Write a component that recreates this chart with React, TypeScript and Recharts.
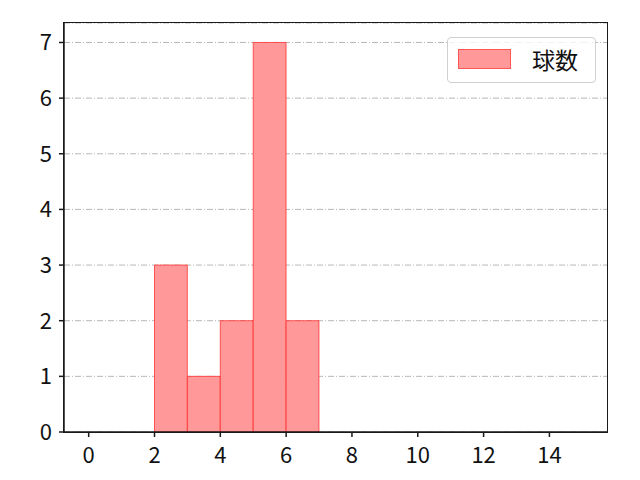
import React from 'react'
import {
  ComposedChart,
  Bar,
  XAxis,
  YAxis,
  CartesianGrid,
} from 'recharts'

// histogram bins (left edge) and counts
const binStarts = [0, 1, 2, 3, 4, 5, 6, 7, 8, 9, 10, 11, 12, 13, 14]
const counts = [0, 0, 3, 1, 2, 7, 2, 0, 0, 0, 0, 0, 0, 0, 0]
const xTicks = [0, 2, 4, 6, 8, 10, 12, 14]
const yTicks = [0, 1, 2, 3, 4, 5, 6, 7]
const xDomain: [number, number] = [-0.75, 15.75]
const yDomain: [number, number] = [0, 7.35]
const seriesName = '球数'

const data = binStarts.map((s, i) => ({ x: s + 0.5, count: counts[i] }))

const W = 640
const H = 480
const M = { top: 23, right: 33, bottom: 0, left: 0 }
const Y_AXIS_W = 64
const X_AXIS_H = 48
const plotW = W - M.left - M.right - Y_AXIS_W
const plotH = H - M.top - M.bottom - X_AXIS_H
// recharts shrinks bars to 90% when barSize >= band width, so stay just under it
const barSize = plotW / (xDomain[1] - xDomain[0]) - 0.1

const FONT = '"Noto Sans CJK JP", "Noto Sans", sans-serif'
const tickStyle = { fill: '#111', fontSize: 22, fontFamily: FONT }
const axisColor = '#1a1a1a'

export default function App() {
  return (
    <div style={{ position: 'fixed', top: 0, left: 0, width: W, height: H, background: '#fff', fontFamily: FONT }}>
      <ComposedChart
        width={W}
        height={H}
        data={data}
        margin={M}
        barCategoryGap="0%"
        barGap="0%"
      >
        <CartesianGrid
          vertical={false}
          stroke="#b0b0b0"
          strokeDasharray="6 2 1 2"
          strokeWidth={0.9}
        />
        <XAxis
          dataKey="x"
          type="number"
          domain={xDomain}
          ticks={xTicks}
          allowDataOverflow
          height={X_AXIS_H}
          tick={tickStyle}
          tickSize={5}
          tickMargin={10}
          stroke={axisColor}
          strokeWidth={1.5}
        />
        <YAxis
          type="number"
          domain={yDomain}
          ticks={yTicks}
          allowDataOverflow
          width={Y_AXIS_W}
          tick={tickStyle}
          tickSize={5}
          tickMargin={7}
          stroke={axisColor}
          strokeWidth={1.5}
        />
        <Bar
          dataKey="count"
          name={seriesName}
          fill="#ff9999"
          stroke="rgba(255,40,40,0.75)"
          strokeWidth={1}
          barSize={barSize}
          isAnimationActive={false}
        />
      </ComposedChart>
      {/* axes frame */}
      <div
        style={{
          position: 'absolute',
          left: M.left + Y_AXIS_W - 0.75,
          top: M.top - 0.75,
          width: plotW + 1.5,
          height: plotH + 1.5,
          border: `1.5px solid ${axisColor}`,
          boxSizing: 'border-box',
          pointerEvents: 'none',
        }}
      />
      <div
        style={{
          position: 'absolute',
          left: 447,
          top: 37,
          width: 149,
          height: 46,
          border: '1px solid #d0d0d0',
          borderRadius: 4,
          background: 'rgba(255,255,255,0.8)',
          boxSizing: 'border-box',
        }}
      >
        <div
          style={{
            position: 'absolute',
            left: 10,
            top: 11,
            width: 53,
            height: 20,
            background: '#ff9999',
            border: '1px solid rgba(255,40,40,0.6)',
            boxSizing: 'border-box',
          }}
        />
        <div
          style={{
            position: 'absolute',
            left: 84,
            top: 6,
            fontSize: 23,
            lineHeight: '30px',
            color: '#111',
          }}
        >
          {seriesName}
        </div>
      </div>
    </div>
  )
}
